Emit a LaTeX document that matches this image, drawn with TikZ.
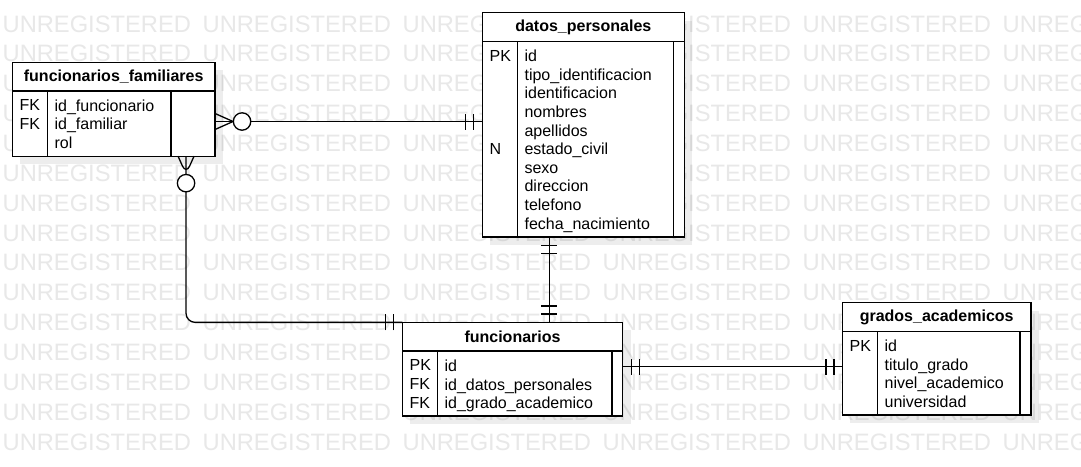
\documentclass[tikz,border=0pt]{standalone}
\usepackage{fontspec}
\setmainfont{Liberation Sans}
\usetikzlibrary{positioning,shadows,decorations.markings}

\begin{document}
\begin{tikzpicture}[
        x=1pt, y=-1pt,
        line width=1.3pt,
        font=\fontsize{16}{18.6}\selectfont,
        % Table styles
        tablehead/.style={
            rectangle,
            draw=black,
            fill=white,
            inner sep=0pt, outer sep=0pt,
            minimum height=28.7pt,
            font=\fontsize{16}{18.6}\selectfont\bfseries,
            drop shadow={shadow xshift=8pt, shadow yshift=-8pt, opacity=.07, fill=black}
        },
        tablebody/.style={
            rectangle,
            draw=black,
            fill=white,
            inner sep=0pt, outer sep=0pt,
            drop shadow={shadow xshift=8pt, shadow yshift=-8pt, opacity=.07, fill=black}
        },
        keycol/.style={rectangle, draw=black, inner sep=0pt, outer sep=0pt, minimum width=35pt, anchor=north west},
        sidecol/.style={rectangle, draw=black, inner sep=0pt, outer sep=0pt, anchor=north east},
        rows/.style={inner sep=0pt, align=left, anchor=north west},
        watermark/.style={text=black!9, font=\fontsize{23.7}{23.7}\selectfont, inner sep=0pt, anchor=base west},
        % Connector ends
        oneone start/.style={postaction={decorate, decoration={markings,
            mark=at position 8.5pt with {\draw (0pt,-8pt) -- (0pt,8pt);},
            mark=at position 16.5pt with {\draw (0pt,-8pt) -- (0pt,8pt);}}}},
        oneone end/.style={postaction={decorate, decoration={markings,
            mark=at position -8.5pt with {\draw (0pt,-8pt) -- (0pt,8pt);},
            mark=at position -16.5pt with {\draw (0pt,-8pt) -- (0pt,8pt);}}}},
        zeromany start/.style={postaction={decorate, decoration={markings,
            mark=at position 18pt with {\draw (-18pt,-8pt) -- (0pt,0pt) -- (-18pt,8pt);},
            mark=at position 27pt with {\draw[fill=white] (0pt,0pt) circle (8.7pt);}}}},
        relation/.style={draw=black, line width=1.3pt}
    ]

    \useasboundingbox (0,0) rectangle (1081,466);
    \fill[white] (0,0) rectangle (1081,466);

    % Watermark
    \begin{scope}
        \clip (0,0) rectangle (1081,466);
        \foreach \r in {0,...,14}
            \foreach \c in {0,...,5}
                \node[watermark] (wm-\r-\c) at (2+200*\c, 32+29.87*\r) {UNREGISTERED};
    \end{scope}

    % funcionarios_familiares
    \node[tablehead, minimum width=202.7pt] (ffHead) at (113.7, 76.5) {funcionarios\_familiares};
    \node[tablebody, minimum width=202.7pt, minimum height=65.3pt, below=0pt of ffHead] (ffBody) {};
    \node[keycol, minimum height=65.3pt] (ffKey) at (ffBody.north west) {};
    \node[sidecol, minimum width=44pt, minimum height=65.3pt] (ffSide) at (ffBody.north east) {};
    \node[rows] (ffKeys) at ([xshift=6.7pt, yshift=-8.2pt]ffBody.north west) {FK\\FK};
    \node[rows] (ffFields) at ([xshift=6.6pt, yshift=-8.2pt]ffKey.north east) {id\_funcionario\\id\_familiar\\rol};

    % datos_personales
    \node[tablehead, minimum width=202pt] (dpHead) at (583.3, 27) {datos\_personales};
    \node[tablebody, minimum width=202pt, minimum height=195.6pt, below=0pt of dpHead] (dpBody) {};
    \node[keycol, minimum height=195.6pt] (dpKey) at (dpBody.north west) {};
    \node[sidecol, minimum width=11pt, minimum height=195.6pt] (dpSide) at (dpBody.north east) {};
    \node[rows] (dpKeys) at ([xshift=6.7pt, yshift=-8.2pt]dpBody.north west) {PK\\ \\ \\ \\ \\N};
    \node[rows] (dpFields) at ([xshift=6.6pt, yshift=-8.2pt]dpKey.north east) {id\\tipo\_identificacion\\identificacion\\nombres\\apellidos\\estado\_civil\\sexo\\direccion\\telefono\\fecha\_nacimiento};

    % funcionarios
    \node[tablehead, minimum width=220.4pt] (fHead) at (512.5, 336.7) {funcionarios};
    \node[tablebody, minimum width=220.4pt, minimum height=65pt, below=0pt of fHead] (fBody) {};
    \node[keycol, minimum height=65pt] (fKey) at (fBody.north west) {};
    \node[sidecol, minimum width=10.7pt, minimum height=65pt] (fSide) at (fBody.north east) {};
    \node[rows] (fKeys) at ([xshift=6.7pt, yshift=-8.2pt]fBody.north west) {PK\\FK\\FK};
    \node[rows] (fFields) at ([xshift=6.6pt, yshift=-8.2pt]fKey.north east) {id\\id\_datos\_personales\\id\_grado\_academico};

    % grados_academicos
    \node[tablehead, minimum width=188.7pt] (gaHead) at (936.7, 317) {grados\_academicos};
    \node[tablebody, minimum width=188.7pt, minimum height=83.7pt, below=0pt of gaHead] (gaBody) {};
    \node[keycol, minimum height=83.7pt] (gaKey) at (gaBody.north west) {};
    \node[sidecol, minimum width=11pt, minimum height=83.7pt] (gaSide) at (gaBody.north east) {};
    \node[rows] (gaKeys) at ([xshift=6.7pt, yshift=-8.2pt]gaBody.north west) {PK};
    \node[rows] (gaFields) at ([xshift=6.6pt, yshift=-8.2pt]gaKey.north east) {id\\titulo\_grado\\nivel\_academico\\universidad};

    % Relations
    \draw[relation, zeromany start, oneone end] ([yshift=2pt]ffSide.east) -- ([yshift=2pt]ffSide.east -| dpBody.west);
    \draw[relation, zeromany start, oneone end, rounded corners=9pt] ([xshift=-7pt]ffSide.south) |- (fHead.north west);
    \draw[relation, oneone start, oneone end] ([xshift=-34pt]dpBody.south) -- ([xshift=-34pt]dpBody.south |- fHead.north);
    \draw[relation, oneone start, oneone end] ([yshift=17pt]fSide.east) -- ([yshift=17pt]fSide.east -| gaBody.west);

\end{tikzpicture}
\end{document}
